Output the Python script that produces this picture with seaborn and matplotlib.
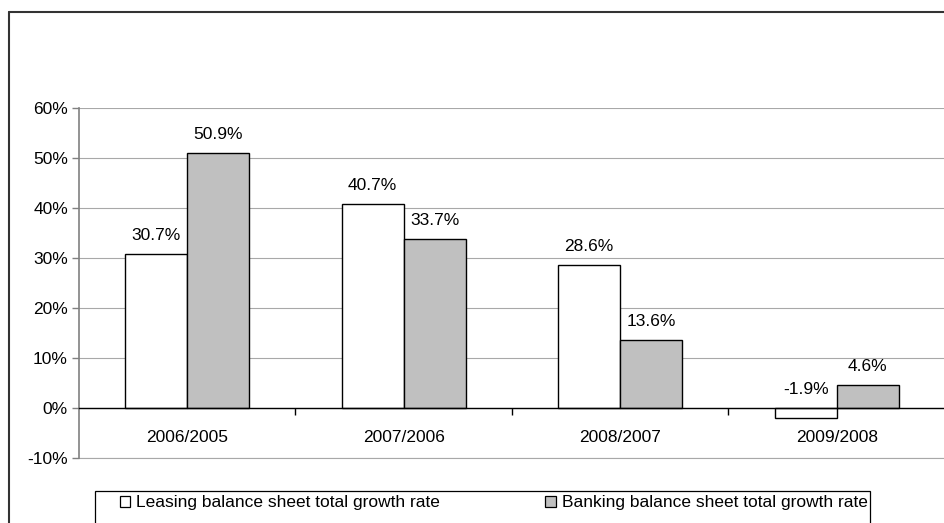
import matplotlib
matplotlib.use("Agg")
import matplotlib.pyplot as plt
import seaborn as sns
import pandas as pd
from matplotlib.patches import Patch, Rectangle
from matplotlib.ticker import FixedLocator, FuncFormatter

categories = ["2006/2005", "2007/2006", "2008/2007", "2009/2008"]
series_names = ["Leasing balance sheet total growth rate", "Banking balance sheet total growth rate"]
leasing = [30.7, 40.7, 28.6, -1.9]
banking = [50.9, 33.7, 13.6, 4.6]
y_ticks = [-10, 0, 10, 20, 30, 40, 50, 60]
colors = ["#ffffff", "#c0c0c0"]

df = pd.DataFrame({
    "period": categories * 2,
    "series": [series_names[0]] * 4 + [series_names[1]] * 4,
    "value": leasing + banking,
})

sns.set_theme(style="white")
plt.rcParams["font.family"] = ["Liberation Sans", "DejaVu Sans"]
plt.rcParams["text.color"] = "black"
plt.rcParams["xtick.color"] = "black"
plt.rcParams["ytick.color"] = "black"
FS = 12.5

fig = plt.figure(figsize=(9.44, 5.23), dpi=100)
ax = fig.add_axes([79 / 944, 1 - 458 / 523, 1 - 79 / 944 + 0.001, 350 / 523])

sns.barplot(data=df, x="period", y="value", hue="series", palette=colors,
            order=categories, hue_order=series_names, width=0.574,
            edgecolor="black", linewidth=1.0, ax=ax, legend=False, saturation=1)

ax.set_xlim(-0.5, 3.5)
ax.set_ylim(-10, 60)
ax.set_xlabel("")
ax.set_ylabel("")
ax.yaxis.set_major_locator(FixedLocator(y_ticks))
ax.yaxis.set_major_formatter(FuncFormatter(lambda v, p: f"{v:.0f}%"))
ax.yaxis.grid(True, color="#a8a8a8", linewidth=0.8)
ax.axhline(-10, color="#a8a8a8", linewidth=0.8, clip_on=False, zorder=0)
ax.set_axisbelow(True)
ax.tick_params(axis="y", which="major", direction="out", length=5, width=1,
               color="#808080", labelcolor="black", labelsize=FS, pad=3, left=True)

# x axis at zero
ax.spines["bottom"].set_position(("data", 0))
ax.spines["bottom"].set_color("black")
ax.spines["bottom"].set_linewidth(1.0)
ax.spines["left"].set_color("#808080")
ax.spines["left"].set_linewidth(1.2)
ax.spines["top"].set_visible(False)
ax.spines["right"].set_visible(False)

ax.xaxis.set_major_locator(FixedLocator([0.5, 1.5, 2.5, 3.5]))
ax.xaxis.set_major_formatter(FuncFormatter(lambda v, p: ""))
ax.xaxis.set_minor_locator(FixedLocator([0, 1, 2, 3]))
ax.xaxis.set_minor_formatter(FuncFormatter(lambda v, p: categories[int(round(v))]))
ax.tick_params(axis="x", which="major", direction="out", length=5, width=1, color="black", bottom=True)
ax.tick_params(axis="x", which="minor", length=0, labelsize=FS, labelcolor="black", pad=16, bottom=True)

# data labels
for i, container in enumerate(ax.containers):
    vals = leasing if i == 0 else banking
    for bar, v in zip(container, vals):
        cx = bar.get_x() + bar.get_width() / 2
        top = max(v, 0)
        ax.annotate(f"{v:.1f}%", (cx, top), xytext=(0, 8), textcoords="offset points",
                    ha="center", va="bottom", fontsize=FS, color="black")

# figure frame (left and top visible)
fig.add_artist(plt.Line2D([9 / 944, 9 / 944], [0, 1 - 12 / 523], transform=fig.transFigure,
                          color="#333333", linewidth=1.5))
fig.add_artist(plt.Line2D([9 / 944, 1], [1 - 12 / 523, 1 - 12 / 523], transform=fig.transFigure,
                          color="#333333", linewidth=1.5))

# legend frame (extends below the figure edge)
fig.add_artist(Rectangle((95 / 944, -0.05), (870 - 95) / 944, (1 - 491 / 523) + 0.05,
                         transform=fig.transFigure, facecolor="white", edgecolor="black",
                         linewidth=0.9))

handles = [Patch(facecolor=c, edgecolor="black", linewidth=0.9) for c in colors]
leg = fig.legend(handles, series_names, loc="center left",
                 bbox_to_anchor=(120 / 944, 1 - 503 / 523), ncol=2, frameon=False,
                 fontsize=FS, handlelength=0.6, handleheight=0.6,
                 handletextpad=0.35, columnspacing=6.05, borderpad=0, borderaxespad=0)
for t in leg.get_texts():
    t.set_color("black")

fig.savefig("out.png", dpi=100)
